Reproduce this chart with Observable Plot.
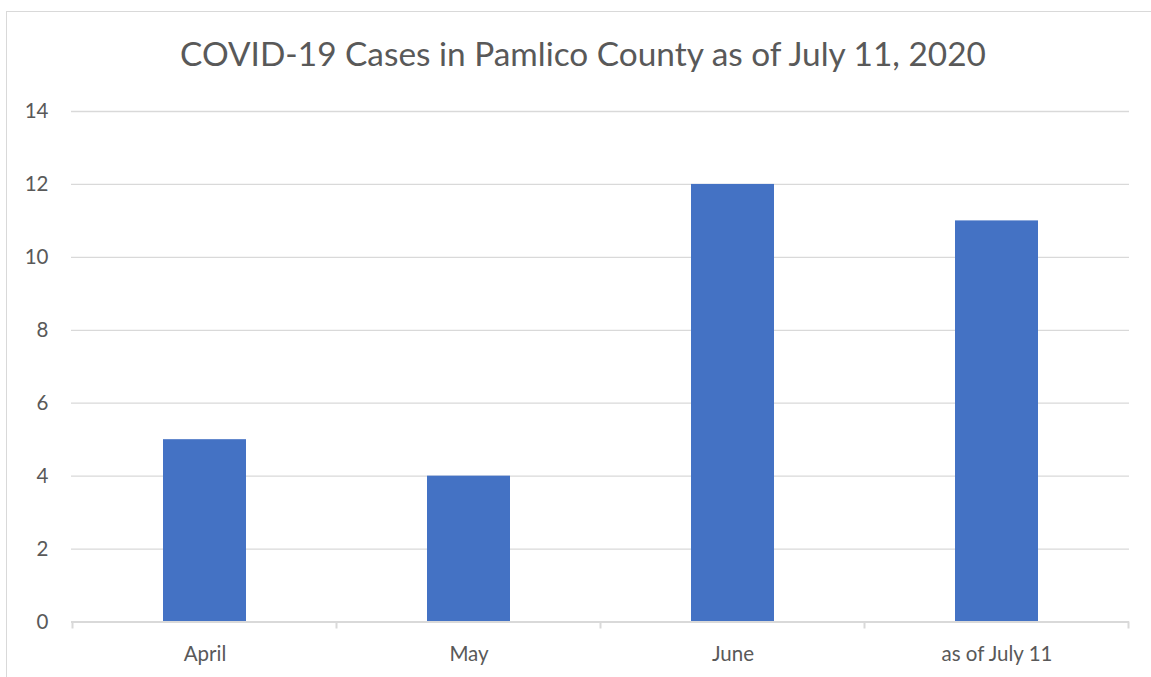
<!DOCTYPE html>
<html>
<head>
<meta charset="utf-8">
<script src="https://cdn.jsdelivr.net/npm/d3@7"></script>
<script src="https://cdn.jsdelivr.net/npm/@observablehq/plot@0.6"></script>
<style>
  html, body { margin: 0; padding: 0; background: #fff; }
  #wrap { position: relative; width: 1151px; height: 677px; overflow: hidden; font-family: Lato, "Open Sans", sans-serif; }
  #frame { position: absolute; left: 6px; top: 11px; width: 1200px; height: 720px; border: 1.5px solid #d9d9d9; box-sizing: border-box; }
  #title { position: absolute; left: 6px; width: 1154px; top: 33px; text-align: center; font-size: 33.4px; color: #595959; white-space: nowrap; }
  #chart { position: absolute; left: 0; top: 0; }
</style>
</head>
<body>
<div id="wrap">
  <div id="frame"></div>
  <div id="title">COVID-19 Cases in Pamlico County as of July 11, 2020</div>
  <div id="chart"></div>
</div>
<script>
const categories = ["April", "May", "June", "as of July 11"];
const cases = [5, 4, 12, 11];
const yTicks = [0, 2, 4, 6, 8, 10, 12, 14];

const data = categories.map((c, i) => ({category: c, value: cases[i]}));

const plot = Plot.plot({
  width: 1151,
  height: 677,
  marginLeft: 71,
  marginRight: 22,
  marginTop: 111,
  marginBottom: 55.5,
  style: {background: "transparent", fontFamily: "Lato, 'Open Sans', sans-serif", fontSize: "20.5px", color: "#595959", overflow: "visible"},
  x: {domain: categories, paddingInner: 0.686, paddingOuter: 0.343, label: null},
  y: {domain: [0, 14], label: null},
  marks: [
    Plot.gridY(yTicks, {stroke: "#d9d9d9", strokeOpacity: 1, strokeWidth: 1.3}),
    Plot.axisY(yTicks, {tickSize: 0, tickPadding: 23, fill: "#595959", fontSize: 20.5, label: null}),
    Plot.axisX({tickSize: 0, tickPadding: 24, fill: "#595959", fontSize: 20.5, label: null}),
    Plot.barY(data, {x: "category", y: "value", fill: "#4472c4"}),
    Plot.ruleY([0], {stroke: "#d9d9d9", strokeWidth: 2})
  ]
});
document.getElementById("chart").appendChild(plot);

// category boundary ticks below the baseline, placed with the x band scale
const xs = plot.scale("x");
const ys = plot.scale("y");
const half = (xs.step) / 2;
const bounds = categories.map(c => xs.apply(c) + xs.bandwidth / 2 - half);
bounds.push(xs.apply(categories[categories.length - 1]) + xs.bandwidth / 2 + half);
const y0 = ys.apply(0);
d3.select(plot).append("g")
  .selectAll("line").data(bounds).join("line")
  .attr("x1", d => d).attr("x2", d => d)
  .attr("y1", y0).attr("y2", y0 + 7)
  .attr("stroke", "#d9d9d9").attr("stroke-width", 2);
</script>
</body>
</html>
